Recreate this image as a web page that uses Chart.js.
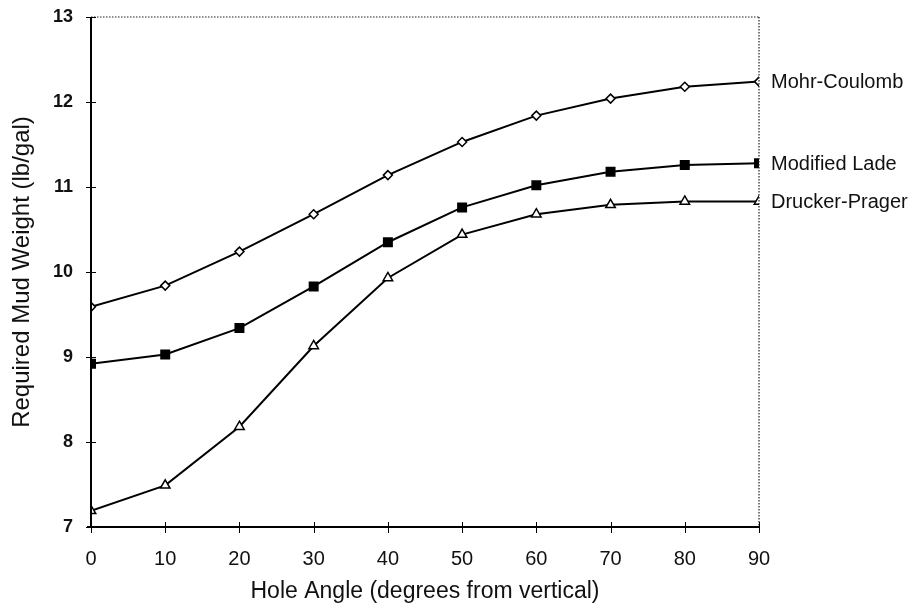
<!DOCTYPE html>
<html><head><meta charset="utf-8">
<script src="https://cdn.jsdelivr.net/npm/chart.js@4/dist/chart.umd.min.js"></script>
<style>html,body{margin:0;padding:0;background:#fff;}#wrap{width:919px;height:608px;}</style>
</head><body><div id="wrap"><canvas id="c" width="919" height="608"></canvas></div>
<script>
const holeAngles = [0, 10, 20, 30, 40, 50, 60, 70, 80, 90];
const mohrCoulomb = [9.59, 9.84, 10.24, 10.68, 11.14, 11.53, 11.84, 12.04, 12.18, 12.24];
const modifiedLade = [8.92, 9.03, 9.34, 9.83, 10.35, 10.76, 11.02, 11.18, 11.26, 11.28];
const druckerPrager = [7.19, 7.49, 8.18, 9.13, 9.93, 10.44, 10.68, 10.79, 10.83, 10.83];
const seriesNames = ['Mohr-Coulomb', 'Modified Lade', 'Drucker-Prager'];
const xTicks = [0, 10, 20, 30, 40, 50, 60, 70, 80, 90];
const yTicks = [7, 8, 9, 10, 11, 12, 13];

const FONT = '"Liberation Sans", Arial, Helvetica, sans-serif';
const pts = (arr) => holeAngles.map((x, i) => ({x, y: arr[i]}));

const axisDecor = {
  id: 'axisDecor',
  afterDatasetsDraw(chart) {
    const {ctx, chartArea: a, scales: {x, y}} = chart;
    ctx.save();
    // dotted top and right borders
    ctx.strokeStyle = '#222';
    ctx.lineWidth = 1.2;
    ctx.setLineDash([1.5, 1.5]);
    ctx.beginPath();
    ctx.moveTo(a.left, a.top); ctx.lineTo(a.right, a.top);
    ctx.moveTo(a.right, a.top); ctx.lineTo(a.right, a.bottom);
    ctx.stroke();
    ctx.setLineDash([]);
    // solid left and bottom axes
    ctx.strokeStyle = '#000';
    ctx.lineWidth = 2;
    ctx.beginPath();
    ctx.moveTo(a.left, a.top); ctx.lineTo(a.left, a.bottom);
    ctx.moveTo(a.left - 4, a.bottom); ctx.lineTo(a.right, a.bottom);
    ctx.stroke();
    // crossing ticks
    ctx.lineWidth = 1;
    ctx.beginPath();
    yTicks.forEach(v => {
      const py = Math.round(y.getPixelForValue(v)) + 0.5;
      ctx.moveTo(a.left - 5, py); ctx.lineTo(a.left + 5, py);
    });
    xTicks.forEach(v => {
      const px = Math.round(x.getPixelForValue(v)) + 0.5;
      ctx.moveTo(px, a.bottom - 5); ctx.lineTo(px, a.bottom + 6);
    });
    ctx.stroke();
    // series labels at right end
    ctx.fillStyle = '#111';
    ctx.font = '20px ' + FONT;
    ctx.textBaseline = 'middle';
    ctx.textAlign = 'left';
    chart.data.datasets.forEach((ds, i) => {
      const meta = chart.getDatasetMeta(i);
      const last = meta.data[meta.data.length - 1];
      ctx.fillText(ds.label, last.x + 12, last.y + 1);
    });
    ctx.restore();
  }
};

const mk = (label, data, style, radius, fill) => ({
  label, data: pts(data),
  borderColor: '#000', borderWidth: 2,
  pointStyle: style, pointRadius: radius,
  pointBackgroundColor: fill, pointBorderColor: '#000', pointBorderWidth: 1.5,
  tension: 0, fill: false
});

new Chart(document.getElementById('c'), {
  type: 'line',
  data: {
    datasets: [
      mk(seriesNames[0], mohrCoulomb, 'rectRot', 4.5, '#fff'),
      mk(seriesNames[1], modifiedLade, 'rect', 6, '#000'),
      mk(seriesNames[2], druckerPrager, 'triangle', 5.5, '#fff')
    ]
  },
  options: {
    responsive: false,
    animation: false,
    devicePixelRatio: 1,
    layout: { padding: { left: 0, right: 160, top: 17, bottom: 0 } },
    plugins: { legend: { display: false }, tooltip: { enabled: false } },
    scales: {
      x: {
        type: 'linear', min: 0, max: 90,
        afterBuildTicks: (s) => { s.ticks = xTicks.map(v => ({value: v})); },
        afterFit: (s) => { s.height = 608 - 527; s.paddingLeft = 0; s.paddingRight = 0; },
        grid: { display: false, drawTicks: false },
        border: { display: false },
        ticks: { color: '#111', font: { family: FONT, size: 20 }, padding: 20, maxRotation: 0 },
        title: { display: true, text: 'Hole Angle (degrees from vertical)', color: '#111',
                 font: { family: FONT, size: 23 }, padding: { top: 2, bottom: 3 } }
      },
      y: {
        min: 7, max: 13,
        afterBuildTicks: (s) => { s.ticks = yTicks.map(v => ({value: v})); },
        afterFit: (s) => { s.width = 91; s.paddingTop = 0; s.paddingBottom = 0; },
        grid: { display: false, drawTicks: false },
        border: { display: false },
        ticks: { color: '#111', font: { family: FONT, size: 18, weight: 'bold' }, padding: 18 },
        title: { display: true, text: 'Required Mud Weight (lb/gal)', color: '#111',
                 font: { family: FONT, size: 24 }, padding: { top: 8, bottom: 4 } }
      }
    }
  },
  plugins: [axisDecor]
});
</script></body></html>
